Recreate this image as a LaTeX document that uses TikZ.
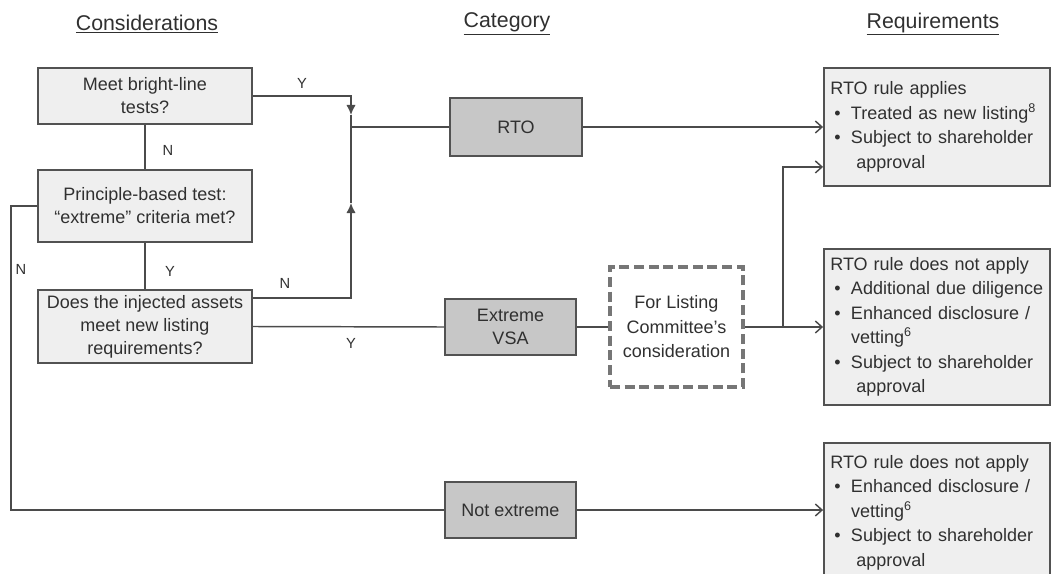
\documentclass[tikz,border=0pt]{standalone}
\usepackage{fontspec}
\setmainfont{Liberation Sans}
\usetikzlibrary{arrows.meta,calc}

\definecolor{boxline}{RGB}{82,82,82}
\definecolor{linecol}{RGB}{75,75,75}
\definecolor{lightfill}{RGB}{239,239,239}
\definecolor{catfill}{RGB}{199,199,199}
\definecolor{dashcol}{RGB}{118,118,118}
\definecolor{txt}{RGB}{48,48,48}

\newcommand{\bul}{\makebox[15.5pt][l]{\hspace{3pt}\textbullet}}

\tikzset{
  qbox/.style={draw=boxline, line width=1.4pt, fill=lightfill, text=txt, align=center,
    minimum width=160.5pt, inner sep=1pt, font=\fontsize{13.5}{17.3}\selectfont},
  catbox/.style={draw=boxline, line width=1.4pt, fill=catfill, text=txt, align=center,
    minimum width=98.5pt, minimum height=42pt, inner sep=1pt, font=\fontsize{13.5}{17.3}\selectfont},
  lcbox/.style={draw=dashcol, line width=3pt, dash pattern=on 7.5pt off 3.5pt, text=txt, align=center,
    minimum width=99.75pt, minimum height=90pt, inner sep=1pt, font=\fontsize{13.5}{18.4}\selectfont},
  reqbox/.style={draw=boxline, line width=1.4pt, fill=lightfill, text=txt, align=left,
    text width=160pt, inner xsep=4.75pt, inner ysep=1pt, font=\fontsize{13.5}{18.4}\selectfont},
  heading/.style={text=txt, font=\fontsize{16}{19}\selectfont},
  yn/.style={text=txt, font=\fontsize{11}{13}\selectfont},
  conn/.style={draw=linecol, line width=1.1pt},
  arr/.style={conn, -{Straight Barb[length=5pt,width=9pt]}},
  mid/.style={conn, -{Latex[length=7.5pt,width=7pt]}}
}

\begin{document}
\begin{tikzpicture}[x=0.75pt,y=0.75pt,yscale=-1,xscale=1]
\useasboundingbox (0,0) rectangle (1052,574);

%Headings
\node[heading] (hcons) at (147,24) {\underline{Considerations}};
\node[heading] (hcat) at (507,24) {\underline{Category}};
\node[heading] (hreq) at (933,24) {\underline{Requirements}};

%Considerations
\node[qbox, minimum height=42pt] (bright) at (145,96) {Meet bright-line\\tests?};
\node[qbox, minimum height=54pt] (princ) at (145,206) {Principle-based test:\\“extreme” criteria met?};
\node[qbox, minimum height=54.75pt] (inject) at (145,326.5) {Does the injected assets\\meet new listing\\requirements?};

%Category
\node[catbox, minimum width=99pt, minimum height=43.5pt] (rto) at (516,127) {RTO};
\node[catbox] (vsa) at (510.5,327) {Extreme\\VSA};
\node[catbox] (notx) at (510.5,510) {Not extreme};
\node[lcbox] (lc) at (676.5,327) {For Listing\\Committee’s\\consideration};

%Requirements
\node[reqbox, minimum height=88.5pt] (req1) at (937,127) {RTO rule applies\\
  \bul Treated as new listing\textsuperscript{8}\\
  \bul Subject to shareholder\\
  \hspace*{19.5pt}approval};
\node[reqbox, minimum height=117pt] (req2) at (937,327) {RTO rule does not apply\\
  \mbox{\bul Additional due diligence}\\
  \bul Enhanced disclosure /\\
  \hspace*{15.5pt}vetting\textsuperscript{6}\\
  \bul Subject to shareholder\\
  \hspace*{19.5pt}approval};
\node[reqbox, minimum height=104pt] (req3) at (937,512.5) {RTO rule does not apply\\
  \bul Enhanced disclosure /\\
  \hspace*{15.5pt}vetting\textsuperscript{6}\\
  \bul Subject to shareholder\\
  \hspace*{19.5pt}approval};

%Junction points
\coordinate (dn) at (351,115);
\coordinate (up) at (351,203);
\coordinate (lft) at (11,510);
\coordinate (split) at (783,327);

%Straight Lines
\draw[conn] (bright.south) -- (princ.north);
\draw[conn] (princ.south) -- (inject.north);
\draw[mid] (bright.east) -| (dn);
\draw[conn] (dn) |- (rto.west);
\draw[mid] ($(inject.north east)+(0,9)$) -| (up);
\draw[conn] (up) -- (dn);
\draw[conn] (inject.east) -- (vsa.west);
\draw[conn] (vsa.east) -- (lc.west);
\draw[conn] (lc.east) -- (split);
\draw[conn] (princ.west) -| (lft) -- (notx.west);

%Arrows into requirements
\draw[arr] (rto.east) -- (rto.east -| req1.west);
\draw[arr] (split) |- ($(req1.south west)+(0,-20)$);
\draw[arr] (split) -- (split -| req2.west);
\draw[arr] (notx.east) -- (notx.east -| req3.west);

%Labels
\node[yn] (ybright) at (302,83) {Y};
\node[yn] (nbright) at (168,150) {N};
\node[yn] (yprinc) at (170,271) {Y};
\node[yn] (nprinc) at (21,269) {N};
\node[yn] (ninject) at (285,283) {N};
\node[yn] (yinject) at (351,343) {Y};

\end{tikzpicture}
\end{document}
